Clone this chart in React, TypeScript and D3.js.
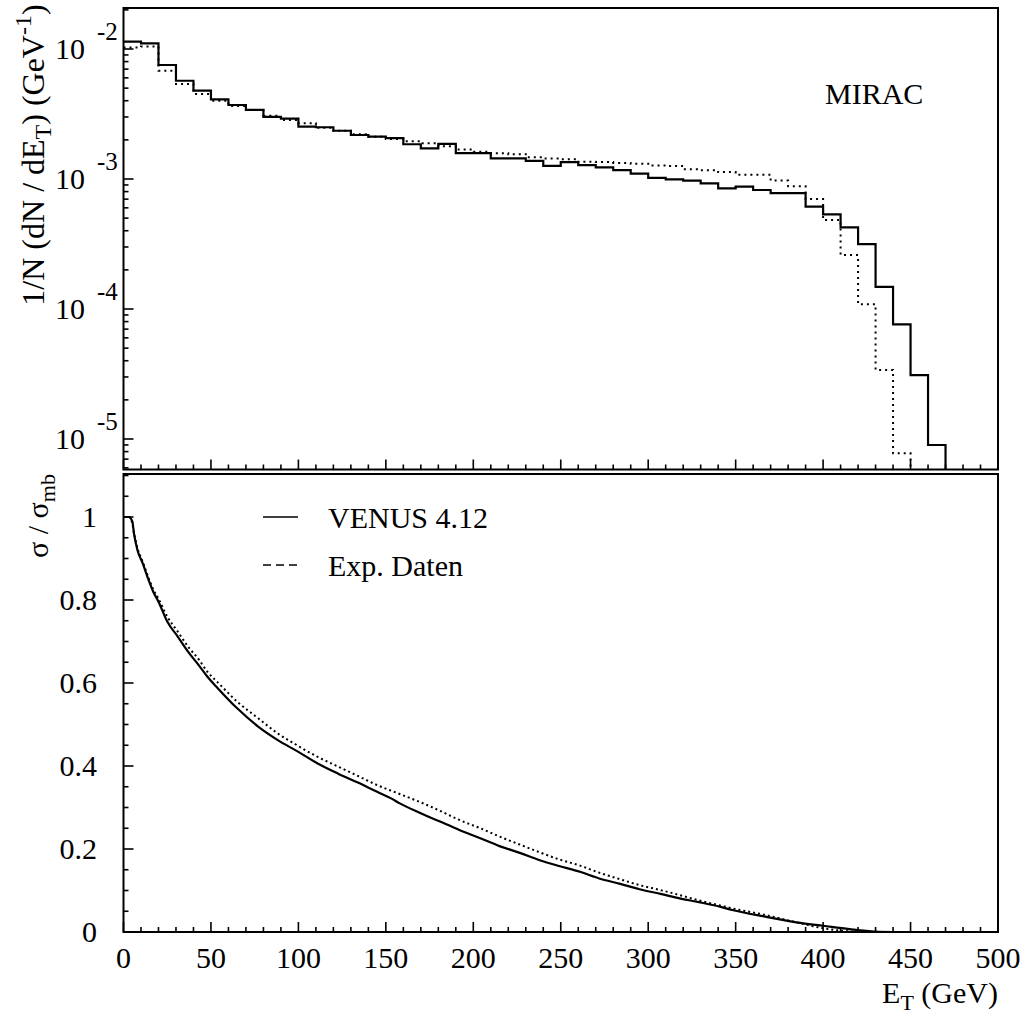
import React from 'react';
import * as d3 from 'd3';

// ---------- DATA ----------
// Top panel: 1/N dN/dE_T histograms, 10 GeV bins (low edges)
const venusBinLow = [0,10,20,30,40,50,60,70,80,90,100,110,120,130,140,150,160,170,180,190,200,210,220,230,240,250,260,270,280,290,300,310,320,330,340,350,360,370,380,390,400,410,420,430,440,450,460];
const venusDensity = [0.01138,0.01106,0.00753,0.00570,0.00478,0.00410,0.00371,0.00340,0.00301,0.00291,0.00253,0.00250,0.00235,0.00218,0.00212,0.00206,0.00185,0.00172,0.00186,0.00158,0.00158,0.00144,0.00144,0.00138,0.00126,0.00135,0.00128,0.00123,0.00117,0.00110,0.00102,0.000995,0.000970,0.000927,0.000848,0.000873,0.000823,0.000780,0.000780,0.000612,0.000535,0.000425,0.000315,0.000148,0.0000762,0.0000310,0.00000899];
const expBinLow = [0,10,20,30,40,50,60,70,80,90,100,110,120,130,140,150,160,170,180,190,200,210,220,230,240,250,260,270,280,290,300,310,320,330,340,350,360,370,380,390,400,410,420,430,440];
const expDensity = [0.01027,0.01045,0.00681,0.00538,0.00451,0.00400,0.00365,0.00340,0.00307,0.00284,0.00268,0.00248,0.00235,0.00221,0.00211,0.00203,0.00195,0.00188,0.00179,0.00169,0.00162,0.00158,0.00155,0.00147,0.00144,0.00142,0.00136,0.00135,0.00133,0.00131,0.00127,0.00126,0.00119,0.00117,0.00113,0.00108,0.00108,0.000975,0.000880,0.000702,0.000484,0.000260,0.000109,0.0000340,0.00000776];
const binWidth = 10;

// Bottom panel: sigma / sigma_mb (integrated)
const venusCumE = [0,3,5,6,8,11,14,17,20,25,31,37,43,48,54,65,77,88,100,111,123,134,145,153,158,169,181,192,204,215,227,238,249,261,272,284,295,307,318,329,341,348,367,387,400,415,430,440];
const venusCum = [1.0,1.0,0.99,0.96,0.92,0.888,0.852,0.82,0.796,0.748,0.712,0.675,0.643,0.615,0.587,0.539,0.495,0.463,0.434,0.406,0.381,0.360,0.338,0.322,0.310,0.288,0.266,0.246,0.226,0.207,0.190,0.173,0.159,0.145,0.129,0.116,0.103,0.092,0.081,0.072,0.061,0.053,0.037,0.022,0.015,0.007,0.001,0];
const expCumE = [0,3,5,6,8,11,14,17,20,25,31,37,43,48,54,65,77,88,100,111,123,134,145,157,169,181,192,204,215,227,238,249,261,272,284,295,307,318,329,341,348,367,387,400,411,422,430];
const expCum = [1.0,1.0,0.985,0.962,0.925,0.892,0.857,0.826,0.803,0.760,0.724,0.687,0.657,0.627,0.601,0.555,0.515,0.479,0.448,0.422,0.398,0.376,0.354,0.334,0.314,0.292,0.270,0.250,0.230,0.210,0.192,0.175,0.160,0.143,0.127,0.113,0.101,0.089,0.076,0.064,0.057,0.041,0.021,0.009,0.003,0.0005,0];

// Axis ticks / labels
const xMajorTicks = [0,50,100,150,200,250,300,350,400,450,500];
const xMinorTicks = d3.range(0, 501, 10);
const topDecades = [-2,-3,-4,-5];
const botMajorTicks = [0,0.2,0.4,0.6,0.8,1];
const botMajorLabels = ['0','0.2','0.4','0.6','0.8','1'];
const botMinorTicks = d3.range(0, 1.11, 0.05);
const legendLabels = ['VENUS 4.12','Exp. Daten'];

// ---------- LAYOUT ----------
const W = 1026, H = 1021;
const L = 123.5, R = 998;
const topT = 8, topB = 469.5;
const FONT = "'Liberation Serif', 'DejaVu Serif', serif";

export default function App() {
  const x = d3.scaleLinear().domain([0, 500]).range([L, R]);
  const yTop = d3.scaleLog().domain([Math.pow(10, -5.2346), Math.pow(10, -1.6846)]).range([topB, topT]);
  const yBot = d3.scaleLinear().domain([0, 1]).range([932, 517]);
  const botT = yBot(1.1036), botB = yBot(0);

  const histPath = (lows: number[], vals: number[]) => {
    const pts: [number, number][] = lows.map((lo, i) => [lo, vals[i]]);
    pts.push([lows[lows.length - 1] + binWidth, vals[vals.length - 1]]);
    const line = d3.line<[number, number]>().x(d => x(d[0])).y(d => yTop(d[1])).curve(d3.curveStepAfter);
    return (line(pts) || '') + `V${topB + 2}`;
  };
  const cumPath = (es: number[], vs: number[]) => {
    const pts: [number, number][] = es.map((e, i) => [e, vs[i]]);
    const line = d3.line<[number, number]>().x(d => x(d[0])).y(d => yBot(d[1])).curve(d3.curveMonotoneX);
    return line(pts) || '';
  };

  const logTicks: { v: number; major: boolean }[] = [];
  for (let n = -6; n <= -1; n++) {
    for (let k = 1; k <= 9; k++) {
      const v = k * Math.pow(10, n);
      const [d0, d1] = yTop.domain();
      if (v >= d0 && v <= d1) logTicks.push({ v, major: k === 1 });
    }
  }

  const fs = 30;
  const ts: React.CSSProperties = { fontFamily: FONT };
  const tick = (x1: number, y1: number, x2: number, y2: number, key: string) => (
    <line key={key} x1={x1} y1={y1} x2={x2} y2={y2} stroke="#000" strokeWidth={1.6} />
  );

  return (
    <svg width={W} height={H} style={{ position: 'absolute', left: 0, top: 0, background: '#fff', fontFamily: FONT }}>
      <rect x={0} y={0} width={W} height={H} fill="#fff" />
      <defs>
        <clipPath id="clipTop"><rect x={L} y={topT} width={R - L} height={topB - topT} /></clipPath>
        <clipPath id="clipBot"><rect x={L} y={botT} width={R - L} height={botB - botT} /></clipPath>
      </defs>

      {/* ---------- TOP PANEL ---------- */}
      <g clipPath="url(#clipTop)">
        <path d={histPath(expBinLow, expDensity)} fill="none" stroke="#000" strokeWidth={2} strokeDasharray="2 4" />
        <path d={histPath(venusBinLow, venusDensity)} fill="none" stroke="#000" strokeWidth={2.2} />
      </g>
      {logTicks.map((t, i) => tick(L, yTop(t.v), L + (t.major ? 10 : 5), yTop(t.v), 'lt' + i))}
      {xMinorTicks.map((v, i) => tick(x(v), topB, x(v), topB - (v % 50 === 0 ? 10 : 5), 'tx' + i))}
      <rect x={L} y={topT} width={R - L} height={topB - topT} fill="none" stroke="#000" strokeWidth={2} />
      {topDecades.map(n => (
        <g key={'dl' + n}>
          <text style={ts} x={85} y={yTop(Math.pow(10, n)) + 10} fontSize={fs} textAnchor="end">10</text>
          <text style={ts} x={97} y={yTop(Math.pow(10, n)) - 9} fontSize={25} textAnchor="start">{String(n)}</text>
        </g>
      ))}
      <text style={ts} x={825} y={104} fontSize={fs}>MIRAC</text>
      <text style={ts} transform={`translate(44,155) rotate(-90)`} fontSize={32} textAnchor="middle">
        1/N (dN / dE<tspan fontSize={24} dy={7}>T</tspan><tspan dy={-7}>) (GeV</tspan><tspan fontSize={24} dy={-13}>-1</tspan><tspan dy={13}>)</tspan>
      </text>

      {/* ---------- BOTTOM PANEL ---------- */}
      <g clipPath="url(#clipBot)">
        <path d={cumPath(expCumE, expCum)} fill="none" stroke="#000" strokeWidth={2} strokeDasharray="2 3" />
        <path d={cumPath(venusCumE, venusCum)} fill="none" stroke="#000" strokeWidth={2.2} />
      </g>
      {botMinorTicks.map((v, i) => {
        const major = Math.abs(v * 5 - Math.round(v * 5)) < 1e-6;
        return tick(L, yBot(v), L + (major ? 10 : 5), yBot(v), 'bt' + i);
      })}
      {xMinorTicks.map((v, i) => tick(x(v), botB, x(v), botB - (v % 50 === 0 ? 10 : 5), 'bx' + i))}
      <rect x={L} y={botT} width={R - L} height={botB - botT} fill="none" stroke="#000" strokeWidth={2} />
      {botMajorTicks.map((v, i) => (
        <text style={ts} key={'bl' + i} x={97} y={yBot(v) + 10} fontSize={fs} textAnchor="end">{botMajorLabels[i]}</text>
      ))}
      {xMajorTicks.map(v => (
        <text style={ts} key={'xl' + v} x={x(v)} y={968} fontSize={fs} textAnchor="middle">{v}</text>
      ))}
      <text style={ts} x={R} y={1003} fontSize={fs} textAnchor="end">
        E<tspan fontSize={22} dy={7}>T</tspan><tspan dy={-7}> (GeV)</tspan>
      </text>
      <text style={ts} transform={`translate(48,516) rotate(-90)`} fontSize={fs} textAnchor="middle">
        σ / σ<tspan fontSize={22} dy={7}>mb</tspan>
      </text>

      {/* legend */}
      <line x1={263} y1={517} x2={298} y2={517} stroke="#000" strokeWidth={1.6} />
      <text style={ts} x={328} y={528} fontSize={fs}>{legendLabels[0]}</text>
      <line x1={263} y1={565} x2={298} y2={565} stroke="#000" strokeWidth={1.6} strokeDasharray="8 5" />
      <text style={ts} x={328} y={576} fontSize={fs}>{legendLabels[1]}</text>
    </svg>
  );
}
